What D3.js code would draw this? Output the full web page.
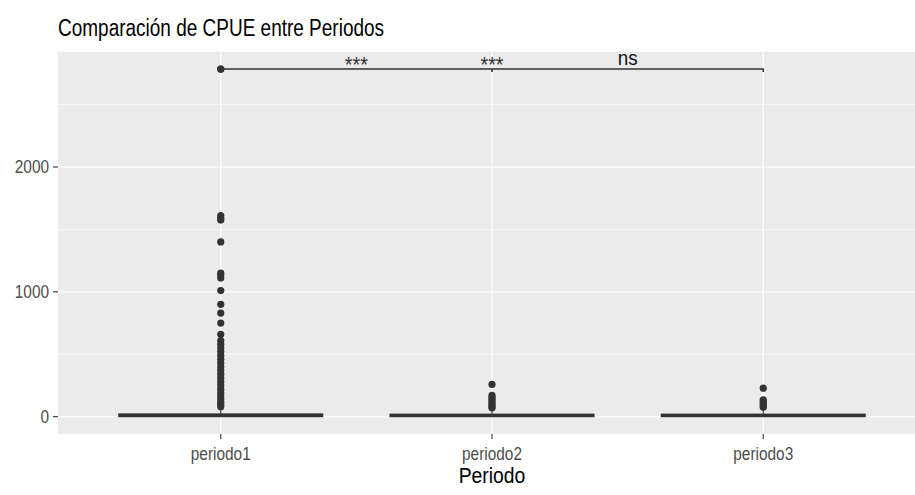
<!DOCTYPE html>
<html>
<head>
<meta charset="utf-8">
<script src="https://cdn.jsdelivr.net/npm/d3@7"></script>
<style>
  body { margin: 0; background: #fff; }
  svg { display: block; font-family: "Liberation Sans", Arial, sans-serif; }
</style>
</head>
<body>
<svg width="915" height="495"></svg>
<script>
  // data
  const periodos = ['periodo1', 'periodo2', 'periodo3'];
  const q1 = [2, 2, 2];
  const mediana = [8, 8, 8];
  const q3 = [20, 18, 18];
  const bigoteMin = [0, 0, 0];
  const bigoteMax = [70, 60, 60];
  const outliers1 = [2785, 1610, 1590, 1575, 1400, 1150, 1135, 1110, 1010, 900, 830, 750, 660,
    610, 580, 550, 520, 490, 460, 430, 400, 370, 340, 310, 280, 250, 220, 190, 165, 140, 115, 95, 80];
  const outliers2 = [258, 170, 155, 140, 125, 110, 95, 80, 70];
  const outliers3 = [228, 135, 120, 105, 90, 75];
  const outliers = [outliers1, outliers2, outliers3];
  const yTicks = [0, 1000, 2000];
  const yMinor = [500, 1500, 2500];
  const comparaciones = [
    { a: 'periodo1', b: 'periodo2', label: '***' },
    { a: 'periodo1', b: 'periodo3', label: '***' },
    { a: 'periodo2', b: 'periodo3', label: 'ns' }
  ];
  const yBracket = 2785;

  const svg = d3.select('svg');

  const panel = { left: 58, right: 926, top: 51.7, bottom: 434 };

  const x = d3.scalePoint().domain(periodos).range([panel.left, panel.right]).padding(0.6);
  const y = d3.scaleLinear().domain([-139, 2924]).range([panel.bottom, panel.top]);
  const boxW = x.step() * 0.75;

  // text in the picture is drawn a bit narrow, hence the x scale
  function label(g, tx, ty, txt, size, anchor, color, sx) {
    return g.append('text')
      .attr('transform', `translate(${tx},${ty}) scale(${sx},1)`)
      .attr('text-anchor', anchor)
      .attr('font-size', size)
      .attr('fill', color)
      .text(txt);
  }

  // panel
  svg.append('rect')
    .attr('x', panel.left).attr('y', panel.top)
    .attr('width', panel.right - panel.left).attr('height', panel.bottom - panel.top)
    .attr('fill', '#EBEBEB');

  const grid = svg.append('g');
  grid.selectAll('.minor').data(yMinor).enter().append('line')
    .attr('x1', panel.left).attr('x2', panel.right)
    .attr('y1', d => y(d)).attr('y2', d => y(d))
    .attr('stroke', '#fff').attr('stroke-width', 0.6);
  grid.selectAll('.major').data(yTicks).enter().append('line')
    .attr('x1', panel.left).attr('x2', panel.right)
    .attr('y1', d => y(d)).attr('y2', d => y(d))
    .attr('stroke', '#fff').attr('stroke-width', 1.2);
  grid.selectAll('.vx').data(periodos).enter().append('line')
    .attr('x1', d => x(d)).attr('x2', d => x(d))
    .attr('y1', panel.top).attr('y2', panel.bottom)
    .attr('stroke', '#fff').attr('stroke-width', 1.2);

  // boxplots
  const g = svg.append('g');
  periodos.forEach((p, i) => {
    const cx = x(p);
    g.append('line')
      .attr('x1', cx).attr('x2', cx)
      .attr('y1', y(q3[i])).attr('y2', y(bigoteMax[i]))
      .attr('stroke', '#333').attr('stroke-width', 1.1);
    g.append('line')
      .attr('x1', cx).attr('x2', cx)
      .attr('y1', y(q1[i])).attr('y2', y(bigoteMin[i]))
      .attr('stroke', '#333').attr('stroke-width', 1.1);
    g.append('rect')
      .attr('x', cx - boxW / 2).attr('width', boxW)
      .attr('y', y(q3[i])).attr('height', y(q1[i]) - y(q3[i]))
      .attr('fill', '#333').attr('stroke', '#333').attr('stroke-width', 1.6);
    g.append('line')
      .attr('x1', cx - boxW / 2).attr('x2', cx + boxW / 2)
      .attr('y1', y(mediana[i])).attr('y2', y(mediana[i]))
      .attr('stroke', '#333').attr('stroke-width', 2.2);
    g.selectAll('.out' + i).data(outliers[i]).enter().append('circle')
      .attr('cx', cx).attr('cy', d => y(d)).attr('r', 3.6)
      .attr('fill', '#333');
  });

  // brackets
  const br = svg.append('g');
  comparaciones.forEach(c => {
    const x1 = x(c.a), x2 = x(c.b), yy = y(yBracket);
    br.append('path')
      .attr('d', `M${x1},${yy + 3}V${yy}H${x2}V${yy + 3}`)
      .attr('fill', 'none').attr('stroke', '#333').attr('stroke-width', 1.1);
    if (c.label === 'ns') {
      label(br, (x1 + x2) / 2, yy - 4, c.label, 21, 'middle', '#111', 0.9);
    } else {
      label(br, (x1 + x2) / 2, yy + 3, c.label, 22, 'middle', '#333', 0.9);
    }
  });
  // the top outlier of periodo1 sits on the bracket
  svg.append('circle').attr('cx', x('periodo1')).attr('cy', y(outliers1[0])).attr('r', 3.6).attr('fill', '#333');

  // axes
  const ax = svg.append('g');
  yTicks.forEach(t => {
    ax.append('line').attr('x1', panel.left - 5).attr('x2', panel.left)
      .attr('y1', y(t)).attr('y2', y(t)).attr('stroke', '#333').attr('stroke-width', 1.1);
    label(ax, panel.left - 9, y(t) + 6, d3.format('d')(t), 17.5, 'end', '#4D4D4D', 0.88);
  });
  periodos.forEach(p => {
    ax.append('line').attr('x1', x(p)).attr('x2', x(p))
      .attr('y1', panel.bottom).attr('y2', panel.bottom + 5).attr('stroke', '#333').attr('stroke-width', 1.1);
    label(ax, x(p), 460, p, 17.5, 'middle', '#4D4D4D', 0.88);
  });
  label(ax, x('periodo2'), 483, 'Periodo', 21.5, 'middle', '#000', 0.9);

  label(svg, panel.left, 36, 'Comparación de CPUE entre Periodos', 23, 'start', '#000', 0.826);
</script>
</body>
</html>
